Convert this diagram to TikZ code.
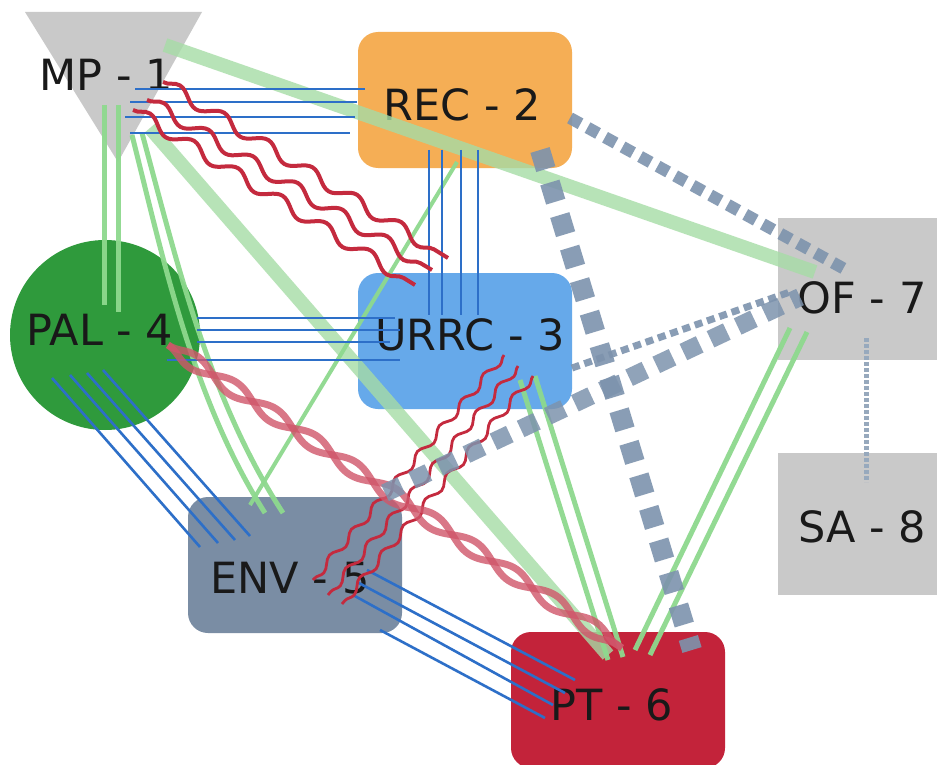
\documentclass[tikz,border=0pt]{standalone}
\usepackage{fontspec}
\setmainfont{DejaVu Sans}
\usetikzlibrary{decorations.pathmorphing,calc}
\definecolor{recC}{HTML}{F5AE55}
\definecolor{urrcC}{HTML}{66A9EA}
\definecolor{palC}{HTML}{2F9A3C}
\definecolor{envC}{HTML}{7A8DA4}
\definecolor{ptC}{HTML}{C3233A}
\definecolor{grayC}{HTML}{C9C9C9}
\definecolor{greenT}{HTML}{A6DCA6}
\definecolor{greenL}{HTML}{8ED98E}
\definecolor{blueL}{HTML}{2D6FC8}
\definecolor{redW}{HTML}{C42A3E}
\definecolor{redB}{HTML}{D0566A}
\definecolor{dashC}{HTML}{7D93AD}
\begin{document}
\begin{tikzpicture}[x=0.5pt,y=-0.5pt,
  box/.style={rectangle, rounded corners=10pt, inner sep=0pt, minimum width=107pt, minimum height=68pt},
  sqbox/.style={rectangle, inner sep=0pt, minimum width=107pt, minimum height=71pt, fill=grayC},
  lbl/.style={font=\fontsize{21.5}{26}\selectfont, text=black!90, inner sep=0pt},
  bl/.style={draw=blueL, line width=1.3pt},
  gthick/.style={draw=greenT, line width=7pt, opacity=0.8},
  gthin/.style={draw=greenL, line width=2.5pt, opacity=0.95},
  wavy/.style={draw=redW, line width=2pt, decorate, decoration={snake, amplitude=3pt, segment length=26pt}},
  wavys/.style={draw=redW, line width=1.4pt, decorate, decoration={snake, amplitude=1.8pt, segment length=17pt}},
  braid/.style={draw=redB, line width=3.5pt, opacity=0.8, decorate, decoration={snake, amplitude=3.5pt, segment length=48pt}},
  braidm/.style={draw=redB, line width=3.5pt, opacity=0.8, decorate, decoration={snake, amplitude=3.5pt, segment length=48pt, mirror}},
  dmed/.style={draw=dashC, line width=6pt, dash pattern=on 6pt off 4pt, opacity=0.9},
  dbig/.style={draw=dashC, line width=10pt, dash pattern=on 10pt off 7pt, opacity=0.9},
  dbig2/.style={draw=dashC, line width=9pt, dash pattern=on 9pt off 6pt, opacity=0.85},
  dsmall/.style={draw=dashC, line width=3.5pt, dash pattern=on 4pt off 2.5pt, opacity=0.9},
  dotv/.style={draw=dashC!80, line width=2.5pt, dash pattern=on 2pt off 1pt}
]
\useasboundingbox (0,0) rectangle (937,765);
\fill[white] (0,0) rectangle (937,765);

% shapes
\fill[grayC] (25,12) -- (202,12) -- (118,162) -- cycle;
\node[box, fill=recC] (rec) at (465,100) {};
\node[box, fill=urrcC] (urrc) at (465,341) {};
\node[circle, fill=palC, minimum size=95pt, inner sep=0pt] (pal) at (105,335) {};
\node[box, fill=envC] (env) at (295,565) {};
\node[box, fill=ptC] (pt) at (618,700) {};
\node[sqbox] (of) at (885,289) {};
\node[sqbox] (sa) at (885,524) {};

% labels
\node[lbl] (mp) at (106,75) {MP - 1};
\node[lbl] (t2) at (462,105) {REC - 2};
\node[lbl] (t3) at (470,335) {URRC - 3};
\node[lbl] (t4) at (100,330) {PAL - 4};
\node[lbl] (t5) at (290,578) {ENV - 5};
\node[lbl] (t6) at (612,705) {PT - 6};
\node[lbl] (t7) at (862,298) {OF - 7};
\node[lbl] (t8) at (862,527) {SA - 8};

% thick green
\draw[gthick] ($(mp)+(59,-30)$) -- ($(of)+(-70,-17)$);
\draw[gthick] ($(mp)+(44,53)$) -- ($(pt)+(-10,-45)$);

% thin green
\draw[gthin] ($(mp)+(-2,30)$) -- ($(pal)+(-1,-30)$);
\draw[gthin] ($(mp)+(12,30)$) -- ($(pal)+(13,-23)$);
\draw[gthin] ($(mp)+(26,60)$) .. controls (164,262) and (193,400) .. ($(env)+(-30,-52)$);
\draw[gthin] ($(mp)+(36,58)$) .. controls (176,258) and (208,398) .. ($(env)+(-12,-52)$);
\draw[gthin, line width=2pt] ($(rec)+(-8,62)$) -- ($(env)+(-45,-60)$);
\draw[gthin] ($(urrc)+(55,39)$) -- ($(pt)+(-10,-40)$);
\draw[gthin] ($(urrc)+(70,35)$) -- ($(pt)+(5,-43)$);
\draw[gthin] ($(of)+(-95,39)$) -- ($(pt)+(17,-50)$);
\draw[gthin] ($(of)+(-78,43)$) -- ($(pt)+(32,-45)$);

% blue lines
\draw[bl] ($(mp)+(29,14)$) -- ($(rec)+(-100,-11)$);
\draw[bl] ($(mp)+(24,27)$) -- ($(rec)+(-108,2)$);
\draw[bl] ($(mp)+(19,42)$) -- ($(rec)+(-110,17)$);
\draw[bl] ($(mp)+(24,58)$) -- ($(rec)+(-115,33)$);

\draw[bl] ($(rec)+(-36,50)$) -- ($(urrc)+(-36,-26)$);
\draw[bl] ($(rec)+(-23,50)$) -- ($(urrc)+(-23,-26)$);
\draw[bl] ($(rec)+(-4,50)$) -- ($(urrc)+(-4,-26)$);
\draw[bl] ($(rec)+(13,50)$) -- ($(urrc)+(13,-26)$);

\draw[bl] ($(pal)+(92,-17)$) -- ($(urrc)+(-70,-23)$);
\draw[bl] ($(pal)+(92,-5)$) -- ($(urrc)+(-65,-11)$);
\draw[bl] ($(pal)+(92,7)$) -- ($(urrc)+(-75,1)$);
\draw[bl] ($(pal)+(62,25)$) -- ($(urrc)+(-65,19)$);

\draw[bl] ($(pal)+(-53,43)$) -- ($(env)+(-95,-18)$);
\draw[bl] ($(pal)+(-35,40)$) -- ($(env)+(-77,-22)$);
\draw[bl] ($(pal)+(-18,38)$) -- ($(env)+(-60,-25)$);
\draw[bl] ($(pal)+(-2,35)$) -- ($(env)+(-45,-29)$);

\draw[bl] ($(env)+(72,5)$) -- ($(pt)+(-43,-20)$);
\draw[bl] ($(env)+(62,17)$) -- ($(pt)+(-53,-7)$);
\draw[bl] ($(env)+(58,30)$) -- ($(pt)+(-65,5)$);
\draw[bl] ($(env)+(85,65)$) -- ($(pt)+(-73,18)$);

% red wavy
\draw[wavy] ($(mp)+(57,7)$) -- ($(urrc)+(-17,-83)$);
\draw[wavy] ($(mp)+(41,25)$) -- ($(urrc)+(-33,-71)$);
\draw[wavy] ($(mp)+(27,35)$) -- ($(urrc)+(-50,-56)$);

\draw[wavys] ($(urrc)+(39,14)$) -- ($(env)+(18,15)$);
\draw[wavys] ($(urrc)+(53,25)$) -- ($(env)+(33,30)$);
\draw[wavys] ($(urrc)+(68,35)$) -- ($(env)+(47,39)$);

\draw[braid] ($(pal)+(63,10)$) -- ($(pt)+(4,-52)$);
\draw[braidm] ($(pal)+(63,10)$) -- ($(pt)+(4,-52)$);

% dashed
\draw[dmed] ($(rec)+(105,18)$) -- ($(of)+(-35,-17)$);
\draw[dbig] ($(rec)+(75,50)$) -- ($(pt)+(74,-50)$);
\draw[dsmall] ($(urrc)+(107,27)$) -- ($(of)+(-95,3)$);
\draw[dbig2] ($(env)+(90,-72)$) -- ($(of)+(-85,8)$);
\draw[dotv] ($(of)+(-19,49)$) -- ($(sa)+(-19,-42)$);
\end{tikzpicture}
\end{document}
